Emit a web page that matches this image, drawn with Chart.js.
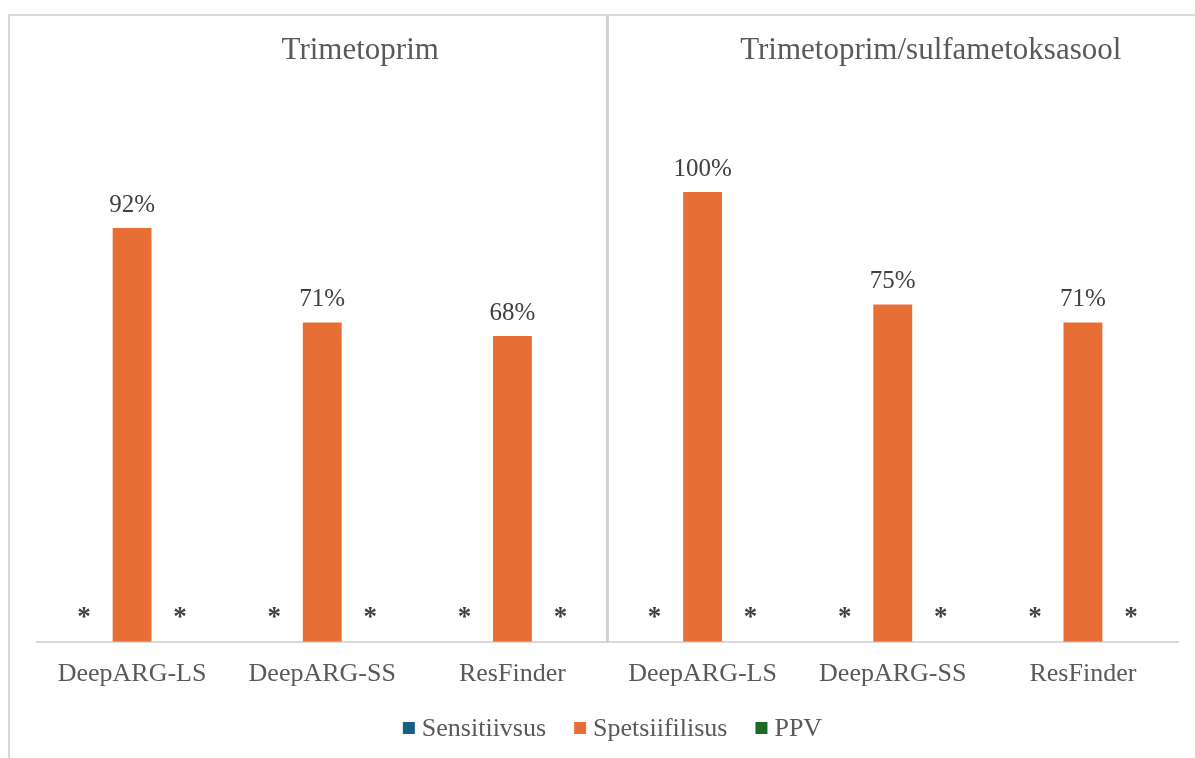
<!DOCTYPE html>
<html>
<head>
<meta charset="utf-8">
<script src="https://cdn.jsdelivr.net/npm/chart.js@4/dist/chart.umd.min.js"></script>
<style>
  html, body { margin: 0; padding: 0; background: #ffffff; }
  #wrap { position: relative; width: 1195px; height: 758px; }
  canvas { display: block; }
</style>
</head>
<body>
<div id="wrap"><canvas id="c" width="1195" height="758"></canvas></div>
<script>
// ---- data ----
const panelTitles = ['Trimetoprim', 'Trimetoprim/sulfametoksasool'];
const categories = ['DeepARG-LS', 'DeepARG-SS', 'ResFinder', 'DeepARG-LS', 'DeepARG-SS', 'ResFinder'];
const seriesNames = ['Sensitiivsus', 'Spetsiifilisus', 'PPV'];
const sensitiivsus = [0, 0, 0, 0, 0, 0];      // not computable -> shown as "*"
const spetsiifilisus = [92, 71, 68, 100, 75, 71];
const ppv = [0, 0, 0, 0, 0, 0];               // not computable -> shown as "*"
const seriesColors = ['#1B5E85', '#E76F36', '#1E6B24'];
const categoriesPerPanel = 3;

const SERIF = '"Liberation Serif", "Times New Roman", serif';
const GRAY = '#595959';
const DARK = '#404040';
const LINE = '#d9d9d9';

const framePlugin = {
  id: 'frame',
  beforeDraw(chart) {
    const ctx = chart.ctx;
    ctx.save();
    ctx.strokeStyle = LINE;
    ctx.lineWidth = 2;
    ctx.beginPath();
    ctx.moveTo(9, chart.height);
    ctx.lineTo(9, 15);
    ctx.lineTo(chart.width, 15);
    ctx.stroke();
    ctx.restore();
  }
};

const panelPlugin = {
  id: 'panels',
  afterDraw(chart) {
    const ctx = chart.ctx;
    const x = chart.scales.x;
    const area = chart.chartArea;
    ctx.save();
    for (let p = 1; p < panelTitles.length; p++) {
      const i = p * categoriesPerPanel;
      const xd = (x.getPixelForValue(i - 1) + x.getPixelForValue(i)) / 2;
      ctx.strokeStyle = '#d0d0d0';
      ctx.lineWidth = 3;
      ctx.beginPath();
      ctx.moveTo(xd, 16);
      ctx.lineTo(xd, area.bottom + 1);
      ctx.stroke();
    }
    ctx.fillStyle = GRAY;
    ctx.font = '31px ' + SERIF;
    ctx.textAlign = 'center';
    ctx.textBaseline = 'middle';
    panelTitles.forEach((t, p) => {
      const mid = x.getPixelForValue(p * categoriesPerPanel + 1);
      ctx.fillText(t, mid + 38, 51);
    });
    ctx.restore();
  }
};

const valueLabelPlugin = {
  id: 'valueLabels',
  afterDatasetsDraw(chart) {
    const ctx = chart.ctx;
    ctx.save();
    ctx.textAlign = 'center';
    ctx.textBaseline = 'alphabetic';
    chart.data.datasets.forEach((ds, di) => {
      const meta = chart.getDatasetMeta(di);
      meta.data.forEach((bar, i) => {
        const v = ds.data[i];
        ctx.fillStyle = DARK;
        if (v) {
          ctx.font = '25px ' + SERIF;
          ctx.fillText(v + '%', bar.x, bar.y - 16);
        } else {
          ctx.font = 'bold 27px ' + SERIF;
          ctx.fillText('*', bar.x, bar.y - 17);
        }
      });
    });
    ctx.restore();
  }
};

const legendPlugin = {
  id: 'customLegend',
  afterDraw(chart) {
    const ctx = chart.ctx;
    const area = chart.chartArea;
    const box = 12, gap = 7, spacing = 28;
    ctx.save();
    ctx.font = '26px ' + SERIF;
    const widths = chart.data.datasets.map(d => ctx.measureText(d.label).width);
    const total = widths.reduce((a, b) => a + b, 0) + chart.data.datasets.length * (box + gap) + spacing * (chart.data.datasets.length - 1);
    let cx = (area.left + area.right) / 2 + 5 - total / 2;
    const y = 728;
    chart.data.datasets.forEach((d, i) => {
      ctx.fillStyle = d.backgroundColor;
      ctx.fillRect(cx, y - box / 2, box, box);
      cx += box + gap;
      ctx.fillStyle = GRAY;
      ctx.textAlign = 'left';
      ctx.textBaseline = 'middle';
      ctx.fillText(d.label, cx, y + 1);
      cx += widths[i] + spacing;
    });
    ctx.restore();
  }
};

const seriesData = [sensitiivsus, spetsiifilisus, ppv];

new Chart(document.getElementById('c'), {
  type: 'bar',
  data: {
    labels: categories,
    datasets: seriesNames.map((name, i) => ({
      label: name,
      data: seriesData[i],
      backgroundColor: seriesColors[i],
      borderWidth: 0,
      barPercentage: 0.81,
      categoryPercentage: 0.757
    }))
  },
  options: {
    responsive: false,
    animation: false,
    devicePixelRatio: 1,
    layout: { padding: { left: 37, right: 17, top: 102, bottom: 51 } },
    plugins: {
      legend: { display: false },
      tooltip: { enabled: false },
      title: { display: false }
    },
    scales: {
      x: {
        grid: { display: false, drawTicks: false },
        border: { display: true, color: LINE, width: 2 },
        ticks: { color: GRAY, font: { family: SERIF, size: 26 }, padding: 17, maxRotation: 0, autoSkip: false }
      },
      y: {
        display: false,
        min: 0,
        max: 120
      }
    }
  },
  plugins: [framePlugin, panelPlugin, valueLabelPlugin, legendPlugin]
});
</script>
</body>
</html>
